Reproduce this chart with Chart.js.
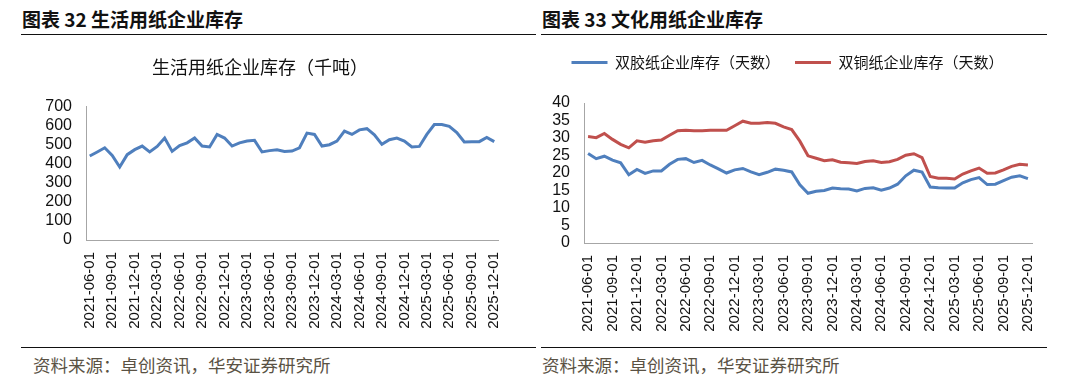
<!DOCTYPE html>
<html>
<head>
<meta charset="utf-8">
<script src="https://cdn.jsdelivr.net/npm/chart.js@4.4.1/dist/chart.umd.min.js"></script>
<style>
  body { margin: 0; background: #fff; width: 1080px; height: 389px; overflow: hidden; position: relative; }
  .hd { position: absolute; top: 5px; font: bold 19px "Noto Sans CJK SC", sans-serif; color: #111; }
  .rule { position: absolute; height: 0; border-top: 1.5px solid #111; }
  .src { position: absolute; top: 352px; font: 17.5px "Noto Sans CJK SC", sans-serif; color: #5a5244; }
  canvas { position: absolute; }
</style>
</head>
<body>
<div class="hd" style="left:22px">图表 32 生活用纸企业库存</div>
<div class="hd" style="left:542px">图表 33 文化用纸企业库存</div>
<div class="rule" style="left:21px;width:515px;top:34px"></div>
<div class="rule" style="left:541px;width:506px;top:34px"></div>
<div class="rule" style="left:21px;width:515px;top:347px"></div>
<div class="rule" style="left:541px;width:506px;top:347px"></div>
<div class="src" style="left:33px">资料来源：卓创资讯，华安证券研究所</div>
<div class="src" style="left:542px">资料来源：卓创资讯，华安证券研究所</div>

<canvas id="c1" width="500" height="300" style="left:22px;top:40px"></canvas>
<canvas id="c2" width="500" height="300" style="left:543px;top:40px"></canvas>

<script>
// monthly, 2021-06 .. 2025-12
const months = [];
for (let y = 2021; y <= 2025; y++) {
  for (let m = 1; m <= 12; m++) {
    if (y === 2021 && m < 6) continue;
    months.push(y + '-' + String(m).padStart(2, '0') + '-01');
  }
}

// 生活用纸企业库存（千吨）
const tissueStock = [441, 462, 484, 444, 383, 448, 474, 493, 462, 491,
  535, 465, 495, 510, 535, 493, 488, 554, 535, 493,
  510, 519, 523, 462, 469, 474, 465, 467, 484, 561,
  554, 493, 500, 519, 571, 554, 578, 584, 552, 502,
  526, 535, 519, 488, 491, 554, 606, 606, 596, 564,
  514, 516, 516, 538, 516];

// 双胶纸企业库存（天数）
const offsetDays = [25.6, 24.1, 24.8, 23.7, 22.9, 19.5, 21.0, 19.9, 20.6, 20.6,
  22.5, 23.9, 24.1, 23.0, 23.6, 22.3, 21.2, 20.0, 20.9, 21.3,
  20.3, 19.5, 20.2, 21.1, 20.8, 20.3, 16.6, 14.2, 14.8, 15.0,
  15.7, 15.5, 15.4, 14.9, 15.6, 15.8, 15.1, 15.7, 16.8, 19.2,
  20.8, 20.3, 16.0, 15.8, 15.7, 15.7, 17.2, 18.1, 18.7, 16.7,
  16.8, 17.8, 18.8, 19.2, 18.4];

// 双铜纸企业库存（天数）
const coatedDays = [30.4, 30.1, 31.3, 29.6, 28.2, 27.2, 29.2, 28.8, 29.2, 29.4,
  30.8, 32.1, 32.2, 32.1, 32.1, 32.2, 32.2, 32.2, 33.5, 34.8,
  34.2, 34.2, 34.4, 34.2, 33.2, 32.4, 29.1, 24.9, 24.2, 23.5,
  23.8, 23.1, 22.9, 22.7, 23.3, 23.5, 23.0, 23.2, 23.9, 25.1,
  25.5, 24.4, 19.0, 18.5, 18.5, 18.3, 19.7, 20.6, 21.4, 19.9,
  20.0, 20.9, 21.9, 22.5, 22.3];

const BLUE = '#4f7fbd';
const RED = '#c0504d';
const numFamily = '"Liberation Sans", Arial, sans-serif';
const cjk = '"Noto Sans CJK SC", sans-serif';

// xHeight: space under the plot, from axis line to canvas bottom
function xAxis(xHeight) {
  return {
    offset: true,
    grid: { display: false, drawTicks: false },
    border: { color: '#a6a6a6' },
    ticks: {
      autoSkip: false, maxRotation: 90, minRotation: 90,
      color: '#111', padding: 12,
      font: { family: numFamily, size: 15 },
      callback: function (v, i) { return i % 3 === 0 ? this.getLabelForValue(v) : ''; }
    },
    afterFit: s => { s.height = xHeight; s.paddingLeft = 0; s.paddingRight = 0; }
  };
}

// yWidth: where the axis line sits in the canvas
function yAxis(max, step, yWidth) {
  return {
    min: 0, max: max,
    grid: { display: false, drawTicks: false },
    border: { color: '#a6a6a6' },
    ticks: { stepSize: step, autoSkip: false, color: '#111', padding: 14, font: { family: numFamily, size: 16 } },
    afterFit: s => { s.width = yWidth; }
  };
}

function line(label, data, color) {
  return {
    label: label, data: data,
    borderColor: color, backgroundColor: color,
    borderWidth: 3, pointRadius: 0, tension: 0
  };
}

new Chart(document.getElementById('c1'), {
  type: 'line',
  data: { labels: months, datasets: [line('生活用纸企业库存（千吨）', tissueStock, BLUE)] },
  options: {
    responsive: false, animation: false, devicePixelRatio: 1,
    layout: { padding: { left: 0, right: 24, top: 0, bottom: 0 } },
    plugins: {
      legend: { display: false },
      tooltip: { enabled: false },
      title: {
        display: true, text: '生活用纸企业库存（千吨）', color: '#111',
        font: { family: cjk, size: 18, weight: 'normal' },
        padding: { top: 16, bottom: 29 }
      }
    },
    scales: { x: xAxis(100), y: yAxis(700, 100, 64) }
  }
});

new Chart(document.getElementById('c2'), {
  type: 'line',
  data: {
    labels: months,
    datasets: [
      line('双胶纸企业库存（天数）', offsetDays, BLUE),
      line('双铜纸企业库存（天数）', coatedDays, RED)
    ]
  },
  options: {
    responsive: false, animation: false, devicePixelRatio: 1,
    layout: { padding: { left: 0, right: 11, top: 0, bottom: 0 } },
    plugins: {
      tooltip: { enabled: false },
      legend: {
        display: true,
        labels: {
          boxWidth: 36, boxHeight: 3, padding: 15, color: '#111',
          font: { family: cjk, size: 15 },
          generateLabels: c => Chart.defaults.plugins.legend.labels.generateLabels(c)
            .map(item => Object.assign(item, { lineWidth: 0 }))
        }
      },
      // empty title with low weight: sits between legend and plot as a gap
      title: {
        display: true, text: '', weight: 500,
        font: { size: 1, lineHeight: 1 },
        padding: { top: 22, bottom: 0 }
      }
    },
    scales: { x: xAxis(97), y: yAxis(40, 5, 41) }
  }
});
</script>
</body>
</html>
